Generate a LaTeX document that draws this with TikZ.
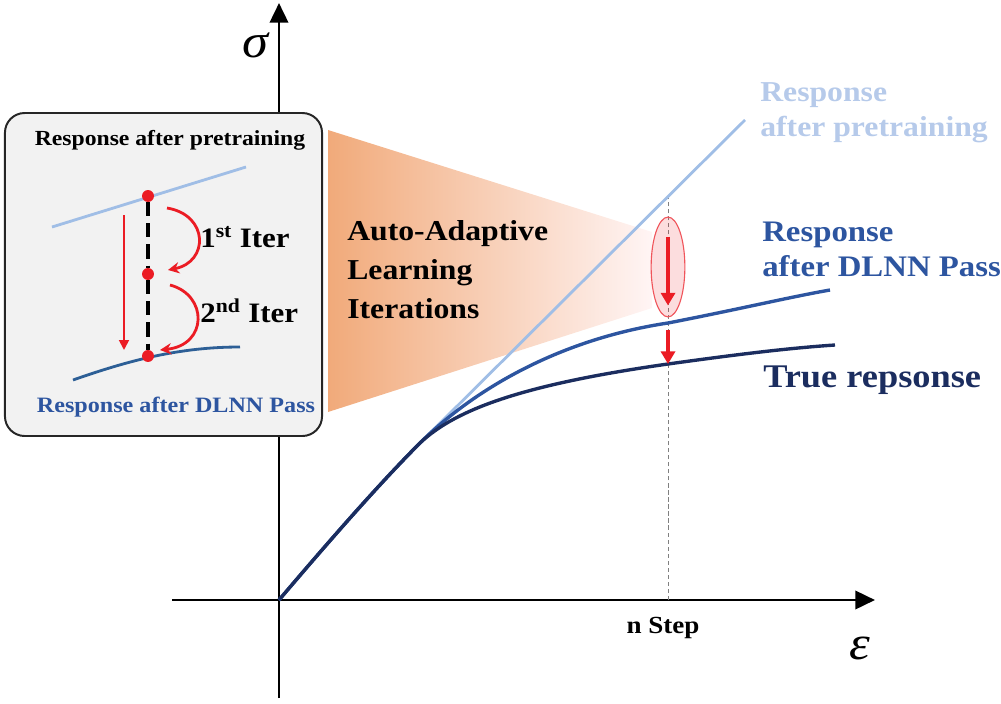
\documentclass[tikz,border=0pt]{standalone}
\usepackage{fontspec}
\setmainfont[FakeStretch=1.1]{Liberation Serif}
\usepackage{xcolor}
\usepackage{tikz}
\usetikzlibrary{calc, arrows.meta, positioning, shapes.geometric}

\definecolor{pretrain}{RGB}{160,190,230}
\definecolor{pretraintxt}{RGB}{182,202,234}
\definecolor{dlnn}{RGB}{45,85,160}
\definecolor{truecol}{RGB}{27,45,95}
\definecolor{insetcurve}{RGB}{45,95,150}
\definecolor{hotred}{RGB}{235,28,36}
\definecolor{funnel}{RGB}{241,170,122}
\definecolor{insetbg}{RGB}{242,242,242}

\begin{document}
\begin{tikzpicture}[x=0.025cm, y=0.025cm]
		\tikzstyle{axis} = [line width=2pt, -{Triangle[length=14pt, width=13pt]}]
		\tikzstyle{insetbox} = [draw=black!85, line width=1.4pt, fill=insetbg, rounded corners=14pt, minimum width=225.5pt, minimum height=229.7pt]
		\tikzstyle{pretrainline} = [pretrain, line width=2pt]
		\tikzstyle{dlnnline} = [dlnn, line width=2.4pt]
		\tikzstyle{trueline} = [truecol, line width=2.4pt]
		\tikzstyle{dot} = [circle, fill=hotred, minimum size=8.5pt, inner sep=0pt]
		\tikzstyle{itline} = [line width=2.2pt, dash pattern=on 10pt off 5pt]
		\tikzstyle{iterarrow} = [hotred, line width=2pt, -{Stealth[length=8pt, width=8pt]}]
		\tikzstyle{redarrow} = [hotred, line width=2.2pt, -{Triangle[length=9pt, width=10pt]}]
		\tikzstyle{redthin} = [hotred, line width=1.3pt, -{Triangle[length=7pt, width=7pt]}]
		\tikzstyle{insettitle} = [font=\fontsize{15.3}{18}\selectfont\bfseries, inner sep=0pt]
		\tikzstyle{insetlabel} = [font=\fontsize{15.6}{18}\selectfont\bfseries, text=dlnn, inner sep=0pt]
		\tikzstyle{iterlabel} = [font=\fontsize{20}{23}\selectfont\bfseries, inner sep=0pt, anchor=west]
		\tikzstyle{midlabel} = [font=\fontsize{20.5}{27.7}\selectfont\bfseries, inner sep=0pt, align=left, anchor=west]
		\tikzstyle{curvelabel} = [font=\fontsize{21}{25}\selectfont\bfseries, inner sep=0pt, align=left, anchor=west]
		\tikzstyle{truelabel} = [font=\fontsize{23.5}{28}\selectfont\bfseries, text=truecol, inner sep=0pt, anchor=west]
		\tikzstyle{steplabel} = [font=\fontsize{17.5}{20}\selectfont\bfseries, inner sep=0pt]
		\tikzstyle{greek} = [font=\fontsize{34}{38}\selectfont\itshape, inner sep=0pt]
		
		\useasboundingbox (0,0) rectangle (1001,-704);
		
		\shade[left color=funnel, right color=white!96!red] (328,-130) -- (652,-232) -- (652,-308) -- (328,-412) -- cycle;
		
		\coordinate (O) at (279,-600);
		\coordinate (xs) at (172,-600);
		\coordinate (xe) at (875,-600);
		\coordinate (ys) at (279,-698);
		\coordinate (ye) at (279,-3);
		\coordinate (nx) at (668,-600);
		\coordinate (pn) at (668,-198);
		\coordinate (dn) at (668,-323);
		\coordinate (tn) at (668,-364);
		
		\draw[axis] (xs) -- (xe);
		\draw[axis] (ys) -- (ye);
		\draw[gray, line width=0.7pt, dash pattern=on 3pt off 2pt] (nx) -- (pn);
		
		\draw[pretrainline] (O) .. controls (330,-540) and (380,-483) .. (420,-443) -- (745,-120);
		\draw[dlnnline] (O) .. controls (330,-540) and (380,-483) .. (420,-443) .. controls (470,-393) and (555,-340) .. (dn) .. controls (740,-309) and (790,-297) .. (830,-290);
		\draw[trueline] (O) .. controls (330,-540) and (380,-483) .. (420,-443) .. controls (455,-410) and (520,-385) .. (tn) .. controls (740,-354) and (790,-348) .. (835,-345);
		
		\node[ellipse, draw=hotred!75, line width=0.8pt, fill=hotred, fill opacity=0.15, draw opacity=1, minimum width=24pt, minimum height=71pt, inner sep=0pt] at (668,-267) (zoom) {};
		\draw[redarrow] ($(zoom.north)+(0,-20)$) -- ($(zoom.south)+(0,12)$);
		\draw[redarrow] ($(zoom.south)+(0,-13)$) -- (tn);
		
		\node[insetbox] at (163.5,-274.5) (inset) {};
		\draw[pretrainline] (52,-227) -- (246,-167);
		\draw[insetcurve, line width=2pt] (73,-380) .. controls (130,-360) and (180,-347) .. (240,-347);
		
		\node[dot] at (148,-196) (p1) {};
		\node[dot] at (148,-274) (p2) {};
		\node[dot] at (148,-356) (p3) {};
		\draw[itline] (p1) -- (p2);
		\draw[itline] (p2) -- (p3);
		\draw[iterarrow] ($(p1)+(19,-12)$) .. controls +(42,-7) and +(41,8) .. ($(p2)+(20,4)$);
		\draw[iterarrow] ($(p2)+(22,-11)$) .. controls +(38,-10) and +(48,5) .. ($(p3)+(12,6)$);
		\coordinate (la) at (124,-215);
		\coordinate (lb) at (124,-350);
		\draw[redthin] (la) -- (lb);
		
		\node[insettitle] at (170,-140) (title) {Response after pretraining};
		\node[insetlabel] at (176,-407) (bottom) {Response after DLNN Pass};
		\node[iterlabel] at (200,-237) (it1) {1\textsuperscript{st} Iter};
		\node[iterlabel] at (200,-311) (it2) {2\textsuperscript{nd} Iter};
		\node[midlabel] at (347,-270) (auto) {Auto-Adaptive\\Learning\\Iterations};
		
		\node[curvelabel, text=pretraintxt, font=\fontsize{20.5}{25}\selectfont\bfseries] at (760,-113) (lpre) {Response\\after pretraining};
		\node[curvelabel, text=dlnn, font=\fontsize{21.2}{25}\selectfont\bfseries] at (762,-249) (ldlnn) {Response\\after DLNN Pass};
		\node[truelabel] at (763,-380) (ltrue) {True repsonse};
		
		\node[steplabel] at (663,-628) (nstep) {n Step};
		\node[greek] at (255,-45) (sig) {σ};
		\node[greek] at (860,-648) (eps) {ε};
	\end{tikzpicture}
\end{document}
